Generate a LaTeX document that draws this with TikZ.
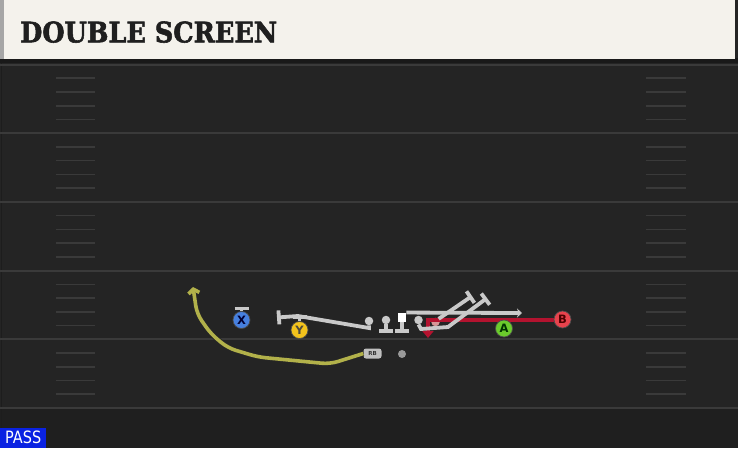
\documentclass[tikz,border=0pt]{standalone}
\usepackage{fontspec}
\usepackage{graphicx}
\newfontfamily\titlefont[BoldFeatures={FakeBold=2}]{DejaVu Serif}
\newfontfamily\labelfont{DejaVu Sans}
\usetikzlibrary{arrows.meta}

\definecolor{fieldbg}{HTML}{242424}
\definecolor{endbg}{HTML}{1F1F1F}
\definecolor{fieldline}{HTML}{3A3A3A}
\definecolor{headerbg}{HTML}{F4F2EC}
\definecolor{blockgray}{HTML}{C9C9C9}
\definecolor{routered}{HTML}{B3132F}
\definecolor{routeyellow}{HTML}{B2B14A}
\definecolor{xblue}{HTML}{4680DF}
\definecolor{yyellow}{HTML}{F3C31C}
\definecolor{agreen}{HTML}{6BCB2C}
\definecolor{bred}{HTML}{E8434D}
\definecolor{passblue}{HTML}{0A22E2}

\tikzset{
  player/.style={circle, minimum size=17pt, inner sep=0pt, draw=black!70,
    line width=0.7pt, font=\labelfont\bfseries\fontsize{11.5}{11.5}\selectfont},
  lineman/.style={circle, minimum size=8.5pt, inner sep=0pt, fill=blockgray},
  blockline/.style={draw=blockgray, line width=3.8pt, -{Bar[width=14pt]}},
  releaseline/.style={draw=blockgray, line width=3.8pt, -{Stealth[length=5pt,width=9pt]}},
  redroute/.style={draw=routered, line width=4pt, -{Triangle[length=7pt,width=11pt]}},
  rbroute/.style={draw=routeyellow, line width=3.6pt, rounded corners=8pt,
    -{Straight Barb[length=4pt,width=11pt]},
    preaction={draw=black!85, line width=5.4pt}},
  hashmark/.style={draw=fieldline, line width=1.6pt}
}

\begin{document}
\begin{tikzpicture}[x=1pt,y=-1pt]

    % Fix the size of the picture
    \useasboundingbox (0,0) rectangle (738,448);

    % Draw the field
    \fill[fieldbg] (0,0) rectangle (738,448);
    \fill[endbg] (0,408) rectangle (738,448);
    \draw[black!20!fieldbg, line width=0.8pt] (1,63) -- (1,448);

    % Yard lines and hash marks
    \foreach \ly in {64.5,133.2,201.9,270.6,339.3,408} {
        \draw[fieldline, line width=2pt] (0,\ly) -- (738,\ly);
    }
    \foreach \ly in {64.5,133.2,201.9,270.6,339.3} {
        \foreach \k in {1,...,4} {
            \draw[hashmark] (56,\ly+\k*13.74) -- (95,\ly+\k*13.74);
            \draw[hashmark] (646,\ly+\k*13.74) -- (686,\ly+\k*13.74);
        }
    }

    % Header with the play name
    \fill[black!90] (0,58) rectangle (738,63);
    \fill[headerbg] (4,0) rectangle (735,59);
    \fill[black!35] (0,0) rectangle (4,59);
    \node[anchor=south west, inner sep=0pt, text=black!88] (title) at (20,43)
        {\resizebox{257pt}{21pt}{\titlefont\bfseries DOUBLE SCREEN}};

    % Play type tag
    \node[anchor=south west, fill=passblue, text=white, inner sep=0pt,
        minimum width=46pt, minimum height=20pt,
        font=\labelfont\fontsize{17}{17}\selectfont] (playtype) at (0,448)
        {\scalebox{0.85}[1]{PASS}};

    % Offensive line
    \node[lineman] (lt) at (369,321) {};
    \node[lineman] (lg) at (386,320) {};
    \node[rectangle, fill=white, minimum width=8.5pt, minimum height=9.5pt,
        inner sep=0pt] (c) at (402,317.5) {};
    \node[lineman] (rg) at (418.5,320) {};
    \node[lineman, fill=red!25!blockgray] (rt) at (435.5,322) {};

    % Backfield
    \node[rectangle, rounded corners=2.5pt, fill=black!25, minimum width=18pt,
        minimum height=10pt, inner sep=0pt, text=black!80,
        font=\labelfont\bfseries\fontsize{5.5}{6}\selectfont] (rb) at (372.5,353.5) {RB};
    \node[circle, fill=black!40, minimum size=8pt, inner sep=0pt] (ball) at (402,354) {};

    % Receivers
    \node[player, fill=xblue, text=black!80!blue] (x) at (241.5,320) {X};
    \node[player, fill=yyellow, text=black!80!yellow] (y) at (299.5,330) {Y};

    % Waypoints of the routes
    \coordinate (xblk) at (241.5,306.5);
    \coordinate (yblk) at (299.5,315);
    \coordinate (lgblk) at (386,333);
    \coordinate (cblk) at (402,333);
    \coordinate (ltblk) at (277,317.5);
    \coordinate (cend) at (522,313);
    \coordinate (rgend) at (487,298);
    \coordinate (rtend) at (472,296);
    \coordinate (bturn) at (428,319.5);
    \coordinate (bend) at (428,338);
    \coordinate (rbend) at (193,287);

    % Red route from B
    \draw[redroute] (562.5,319.5) -- (bturn) -- (bend);

    % Pass blocks
    \draw[blockline] (x.north) -- (xblk);
    \draw[blockline] (y.north) -- (yblk);
    \draw[blockline] (lg.south) -- (lgblk);
    \draw[blockline] (c.south) -- (cblk);
    \draw[blockline] (lt.south) -- (369,328) -- (298,316) -- (ltblk);

    % Linemen releasing for the screen
    \draw[releaseline] (c.north east) -- (cend);
    \draw[blockline] (rg.south) -- (421,329) -- (448,327) -- (rgend);
    \draw[blockline] (rt.north east) -- (rtend);

    % Running back route
    \draw[rbroute] (rb.west) -- (330,364) -- (258,357) -- (228,348)
        -- (211,334) -- (197,314) -- (rbend);

    % Receivers drawn over the routes
    \node[player, fill=agreen, text=black!80!green] (a) at (504,328.5) {A};
    \node[player, fill=bred, text=black!70!red] (b) at (562.5,319.5) {B};

\end{tikzpicture}
\end{document}
